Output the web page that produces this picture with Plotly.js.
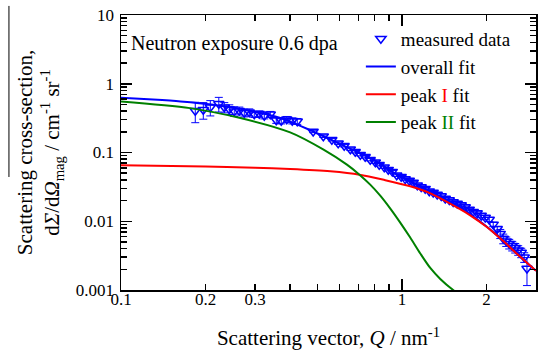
<!DOCTYPE html>
<html><head><meta charset="utf-8">
<script src="https://cdn.plot.ly/plotly-3.0.1.min.js"></script>
<style>html,body{margin:0;padding:0;background:#fff}#chart{width:539px;height:355px}</style>
</head><body><div id="chart"></div>
<script>
// measured data, low-Q part
const lowQ = [0.1838,0.1963,0.2079,0.2229,0.2332,0.2429,0.2530,0.2636,0.2747,0.2861,0.2981,0.3106,0.3236,0.3399,0.3570,0.3719,0.3891,0.4070,0.4240];
const lowI = [0.4044,0.4181,0.4544,0.5108,0.4544,0.4252,0.3977,0.4044,0.3782,0.3846,0.3597,0.3657,0.3421,0.3597,0.2943,0.2894,0.3043,0.2894,0.2846];
const lowErr = [0.133,0.113,0.114,0.123,0.077,0.068,0.064,0.053,0.049,0.046,0.036,0.037,0.034,0.036,0.029,0.029,0.030,0.029,0.028];
// measured data, high-Q part
const highQ = [0.483,0.525,0.563,0.593,0.623,0.655,0.682,0.711,0.740,0.771,0.804,0.830,0.865,0.894,0.924,0.958,0.994,1.027,1.062,1.097,1.134,1.171,1.210,1.251,1.292,1.335,1.380,1.426,1.474,1.522,1.573,1.626,1.680,1.736,1.794,1.853,1.915,1.979,2.045,2.113,2.184,2.238,2.294,2.351,2.409,2.469,2.530,2.593,2.658,2.724,2.786];
const highI = [0.2024,0.1724,0.1534,0.1365,0.1255,0.1117,0.1027,0.0929,0.0869,0.0786,0.0723,0.0665,0.0612,0.0563,0.0527,0.0468,0.0445,0.0410,0.0390,0.0365,0.0335,0.0314,0.0298,0.0274,0.0261,0.0244,0.0232,0.0214,0.0203,0.0190,0.0181,0.0172,0.0161,0.0148,0.0138,0.0132,0.0121,0.0113,0.0106,0.00900,0.00780,0.00660,0.00560,0.00510,0.00470,0.00440,0.00410,0.00380,0.00350,0.00300,0.00206];
const highErr = [0.0081,0.0069,0.0061,0.0055,0.0050,0.0045,0.0041,0.0037,0.0035,0.0031,0.0029,0.0027,0.0024,0.0023,0.0021,0.0019,0.0018,0.0016,0.0016,0.0015,0.0013,0.0013,0.0012,0.0011,0.0010,0.0010,0.0009,0.0009,0.0008,0.0008,0.0007,0.0007,0.0006,0.0006,0.0006,0.0005,0.00085,0.00079,0.00074,0.00066,0.00057,0.00100,0.00090,0.00080,0.00075,0.00070,0.00065,0.00060,0.00055,0.00048,0.0009];
// overall fit
const fitQ = [0.1,0.13,0.163,0.213,0.288,0.369,0.483,0.603,0.791,0.986,1.07,1.26,1.61,1.75,2.0,2.3,2.6,3.0];
const fitI = [0.624,0.588,0.552,0.494,0.405,0.317,0.202,0.132,0.0787,0.0446,0.038,0.0271,0.0159,0.0126,0.0084,0.0051,0.0032,0.0019];
// peak I fit
const peak1Q = [0.1,0.2,0.3,0.4,0.556,0.706,0.872,1.07,1.25,1.61,1.75,2.0,2.3,2.6,3.0];
const peak1I = [0.065,0.0627,0.0602,0.0576,0.0532,0.0476,0.0396,0.0322,0.0259,0.0150,0.0122,0.0083,0.0051,0.0032,0.0019];
// peak II fit
const peak2Q = [0.1,0.176,0.266,0.400,0.526,0.637,0.706,0.771,0.837,0.909,0.986,1.070,1.162,1.261,1.369,1.522,1.6];
const peak2I = [0.552,0.442,0.317,0.196,0.110,0.0665,0.0476,0.0341,0.0236,0.0153,0.00957,0.0058,0.0034,0.00209,0.00145,0.001,0.00088];
// axis ticks
const xMinorVals = [0.2,0.3,0.4,0.5,0.6,0.7,0.8,0.9,2,3];
const xMajorVals = [0.1,1];
const xLabelVals = [0.1,0.2,0.3,1,2,3];
const xLabelText = ['0.1','0.2','0.3','1','2','3'];
const yTickVals = [0.001,0.01,0.1,1,10];
const yTickText = ['0.001','0.01','0.1','1','10'];
const yMinorVals = [0.002,0.003,0.004,0.005,0.006,0.007,0.008,0.009,0.02,0.03,0.04,0.05,0.06,0.07,0.08,0.09,0.2,0.3,0.4,0.5,0.6,0.7,0.8,0.9,2,3,4,5,6,7,8,9];

const FONT = '"Liberation Serif","Times New Roman",serif';
const BLUE = 'rgb(0,0,255)', RED = 'rgb(255,0,0)', GREEN = 'rgb(0,128,0)';

const traces = [
  {x: lowQ.concat(highQ), y: lowI.concat(highI), type: 'scatter', mode: 'markers', name: 'measured data',
   xaxis: 'x', yaxis: 'y',
   marker: {symbol: 'triangle-down-open', size: 9, color: BLUE, line: {width: 1.5, color: BLUE}},
   error_y: {type: 'data', array: lowErr.concat(highErr), visible: true, color: BLUE, thickness: 1, width: 4}},
  {x: fitQ, y: fitI, type: 'scatter', mode: 'lines', name: 'overall fit', xaxis: 'x2', yaxis: 'y',
   line: {color: BLUE, width: 2, shape: 'spline', smoothing: 0.8}},
  {x: peak1Q, y: peak1I, type: 'scatter', mode: 'lines', name: 'peak <span style="color:rgb(255,0,0)">I</span> fit', xaxis: 'x2', yaxis: 'y',
   line: {color: RED, width: 2, shape: 'spline', smoothing: 0.8}},
  {x: peak2Q, y: peak2I, type: 'scatter', mode: 'lines', name: 'peak <span style="color:rgb(0,128,0)">II</span> fit', xaxis: 'x3', yaxis: 'y',
   line: {color: GREEN, width: 2, shape: 'spline', smoothing: 0.8}}
];

const xr = [-1, Math.log10(3)];
const tickFont = {family: FONT, size: 17, color: '#000'};
const layout = {
  width: 539, height: 355,
  margin: {l: 121, r: 3, t: 15, b: 65},
  paper_bgcolor: '#fff', plot_bgcolor: '#fff',
  font: {family: FONT, color: '#000', size: 17},
  showlegend: true,
  legend: {x: 0.578, y: 0.982, xanchor: 'left', yanchor: 'top', bgcolor: 'rgba(0,0,0,0)',
    font: {family: FONT, size: 19, color: '#000'}, tracegroupgap: 0},
  xaxis: {type: 'log', range: xr, showline: true, linecolor: '#000', linewidth: 1.5, mirror: 'ticks',
    ticks: 'inside', ticklen: 6, tickwidth: 1.5, tickcolor: '#000',
    tickmode: 'array', tickvals: xMinorVals, showticklabels: false, showgrid: false, zeroline: false},
  xaxis2: {type: 'log', range: xr, overlaying: 'x', anchor: 'y', side: 'bottom', showline: false, mirror: 'ticks',
    ticks: 'inside', ticklen: 11, tickwidth: 1.5, tickcolor: '#000',
    tickmode: 'array', tickvals: xMajorVals, showticklabels: false, showgrid: false, zeroline: false},
  xaxis3: {type: 'log', range: xr, overlaying: 'x', anchor: 'free', position: 0.01, side: 'bottom',
    showline: false, ticks: '', tickmode: 'array', tickvals: xLabelVals, ticktext: xLabelText,
    showgrid: false, zeroline: false, tickfont: tickFont,
    title: {text: 'Scattering vector, <i>Q</i> / nm<sup>-1</sup>', font: {family: FONT, size: 21, color: '#000'}, standoff: 22}},
  yaxis: {type: 'log', range: [-3, 1], showline: true, linecolor: '#000', linewidth: 1.5, mirror: 'ticks',
    ticks: 'inside', ticklen: 11, tickwidth: 1.5, tickcolor: '#000', ticklabelstandoff: 2,
    tickmode: 'array', tickvals: yTickVals, ticktext: yTickText, showgrid: false, zeroline: false,
    minor: {tickmode: 'array', tickvals: yMinorVals, ticks: 'inside', ticklen: 6, tickwidth: 1.5, tickcolor: '#000', showgrid: false},
    tickfont: tickFont,
    title: {text: 'Scattering cross-section,<br>d<i>Σ</i>/d<i>Ω</i><sub>mag</sub> / cm<sup>-1</sup> sr<sup>-1</sup>',
      font: {family: FONT, size: 21, color: '#000'}, standoff: 10}},
  annotations: [
    {text: 'Neutron exposure 0.6 dpa', xref: 'paper', yref: 'paper', x: 0.02, y: 0.895,
     xanchor: 'left', yanchor: 'middle', showarrow: false, font: {family: FONT, size: 20, color: '#000'}}
  ],
  shapes: [
    {type: 'line', xref: 'paper', yref: 'paper', x0: -0.27, x1: -0.27, y0: 1.033, y1: 0.411,
     line: {color: '#000', width: 1}}
  ]
};

Plotly.newPlot('chart', traces, layout, {displayModeBar: false, staticPlot: true});
</script>
</body></html>
